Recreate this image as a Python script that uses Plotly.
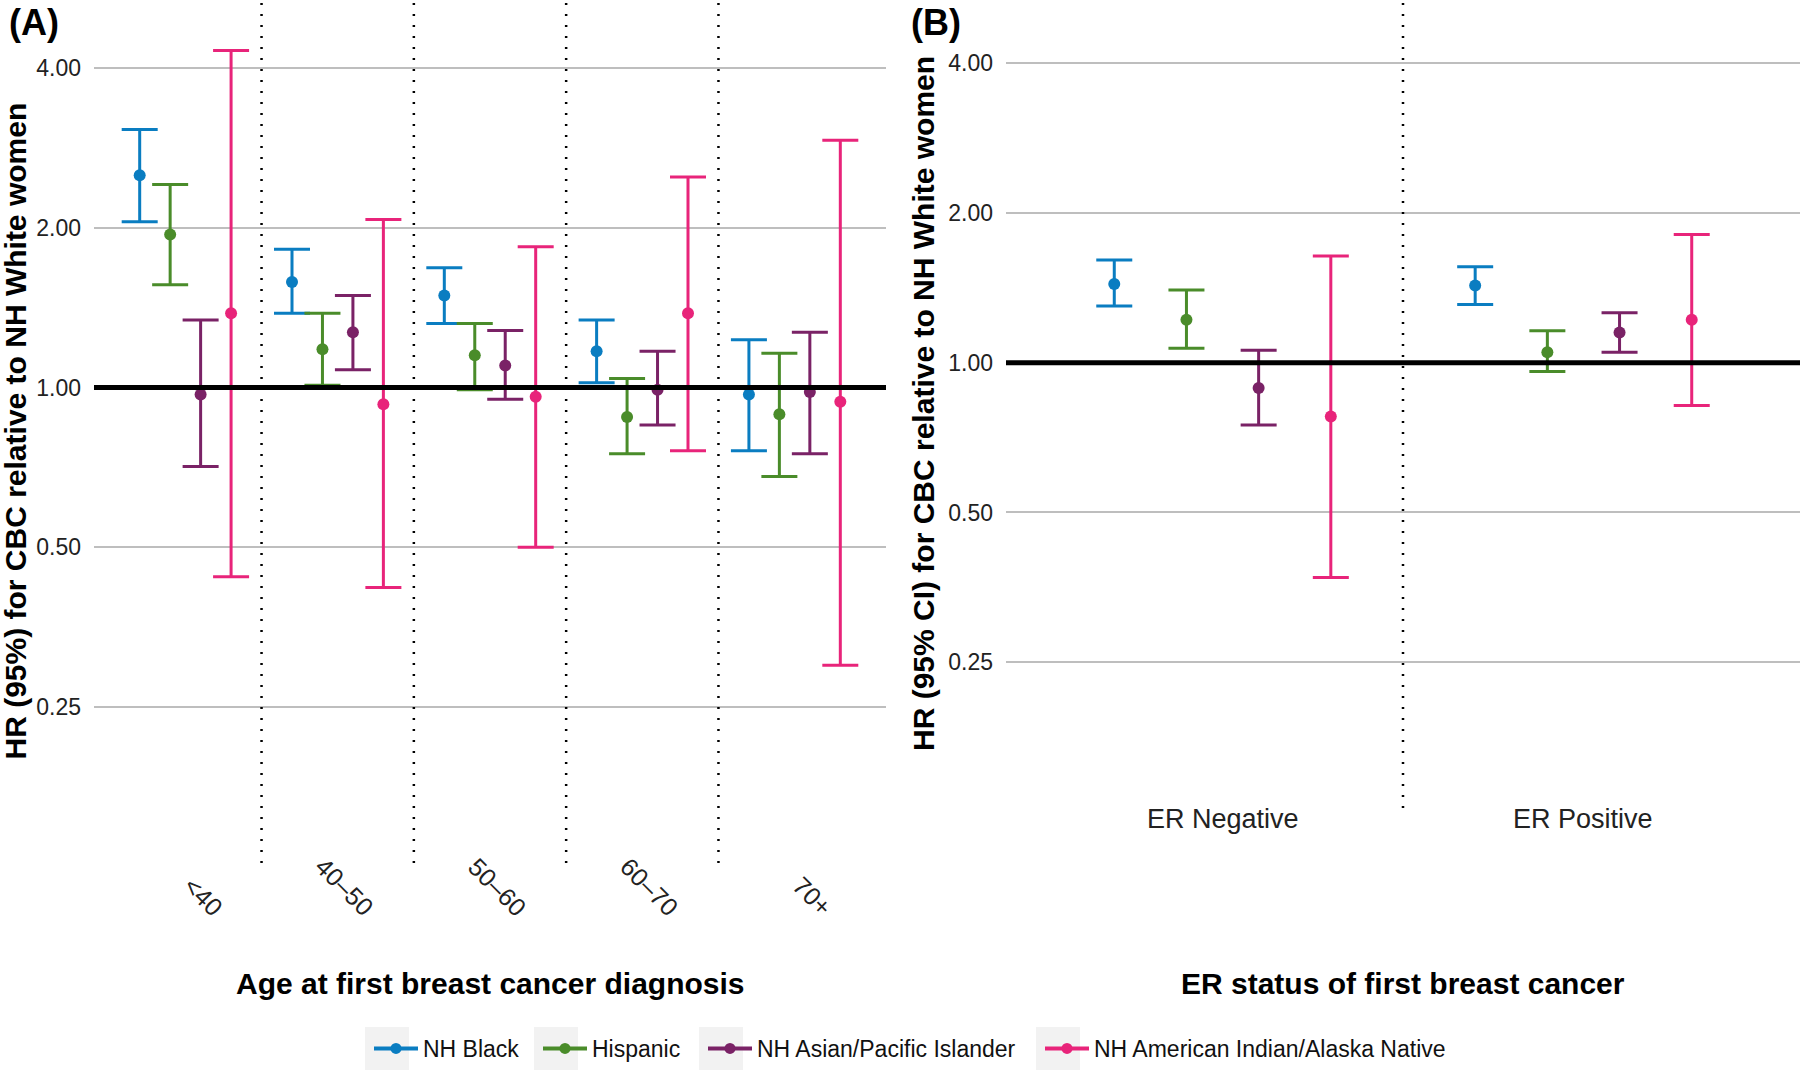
import plotly.graph_objects as go

# ---------------- data ----------------
age_groups = ["<40", "40–50", "50–60", "60–70", "70+"]
er_groups = ["ER Negative", "ER Positive"]
series_names = ["NH Black", "Hispanic", "NH Asian/Pacific Islander",
                "NH American Indian/Alaska Native"]
tick_vals = [0.25, 0.5, 1, 2, 4]
tick_text = ["0.25", "0.50", "1.00", "2.00", "4.00"]

# Panel A: HR by age at first diagnosis
age_black_hr = [2.51, 1.58, 1.49, 1.17, 0.97]
age_black_lo = [2.05, 1.38, 1.32, 1.02, 0.76]
age_black_hi = [3.06, 1.82, 1.68, 1.34, 1.23]

age_hisp_hr = [1.94, 1.18, 1.15, 0.88, 0.89]
age_hisp_lo = [1.56, 1.01, 0.99, 0.75, 0.68]
age_hisp_hi = [2.41, 1.38, 1.32, 1.04, 1.16]

age_asian_hr = [0.97, 1.27, 1.10, 0.99, 0.98]
age_asian_lo = [0.71, 1.08, 0.95, 0.85, 0.75]
age_asian_hi = [1.34, 1.49, 1.28, 1.17, 1.27]

age_aian_hr = [1.38, 0.93, 0.96, 1.38, 0.94]
age_aian_lo = [0.44, 0.42, 0.50, 0.76, 0.30]
age_aian_hi = [4.31, 2.07, 1.84, 2.49, 2.92]

# Panel B: HR by ER status
er_black_hr = [1.44, 1.43]
er_black_lo = [1.30, 1.31]
er_black_hi = [1.61, 1.56]

er_hisp_hr = [1.22, 1.05]
er_hisp_lo = [1.07, 0.96]
er_hisp_hi = [1.40, 1.16]

er_asian_hr = [0.89, 1.15]
er_asian_lo = [0.75, 1.05]
er_asian_hi = [1.06, 1.26]

er_aian_hr = [0.78, 1.22]
er_aian_lo = [0.37, 0.82]
er_aian_hi = [1.64, 1.81]

# ---------------- style ----------------
colors = ["#0A7DC1", "#4A8C2A", "#7A2266", "#E8247A"]
FONT = "Liberation Sans, Arial, sans-serif"
W, H = 1800, 1071
legend_key_left = [365, 534, 699, 1036]   # px, left edge of each grey key box
KEY_W, KEY_TOP, KEY_BOT = 44, 1027, 1070

def px_x(p):
    return p / W

def px_y(p):
    return 1 - p / H

age_series = [
    (age_black_hr, age_black_lo, age_black_hi),
    (age_hisp_hr, age_hisp_lo, age_hisp_hi),
    (age_asian_hr, age_asian_lo, age_asian_hi),
    (age_aian_hr, age_aian_lo, age_aian_hi),
]
er_series = [
    (er_black_hr, er_black_lo, er_black_hi),
    (er_hisp_hr, er_hisp_lo, er_hisp_hi),
    (er_asian_hr, er_asian_lo, er_asian_hi),
    (er_aian_hr, er_aian_lo, er_aian_hi),
]

fig = go.Figure()

def add_panel(cats, series, xa, ya):
    for i, (hr, lo, hi) in enumerate(series):
        fig.add_trace(go.Scatter(
            x=cats, y=hr, mode="markers",
            name=series_names[i], showlegend=False,
            offsetgroup=series_names[i],
            marker=dict(color=colors[i], size=12),
            error_y=dict(type="data", symmetric=False,
                         array=[h - v for h, v in zip(hi, hr)],
                         arrayminus=[v - l for v, l in zip(hr, lo)],
                         color=colors[i], thickness=3, width=18),
            xaxis=xa, yaxis=ya, hoverinfo="skip"))

add_panel(age_groups, age_series, "x", "y")
add_panel(er_groups, er_series, "x2", "y2")

# legend-only entries, one legend per entry so each can be placed
legend_ids = ["legend", "legend2", "legend3", "legend4"]
for i, name in enumerate(series_names):
    fig.add_trace(go.Scatter(
        x=[None], y=[None], mode="lines+markers", name=name,
        offsetgroup=name, legend=legend_ids[i],
        line=dict(color=colors[i], width=4),
        marker=dict(color=colors[i], size=11),
        xaxis="x", yaxis="y"))

yrange = [-0.8953, 0.7294]
yaxis_common = dict(
    type="log", range=yrange, tickvals=tick_vals, ticktext=tick_text,
    showgrid=True, gridcolor="#BEBEBE", gridwidth=2,
    zeroline=False, showline=False, ticks="",
    tickfont=dict(family=FONT, size=23, color="#222222"),
    ticklabelstandoff=12,
)
xaxis_common = dict(type="category", showgrid=False, zeroline=False,
                    showline=False, showticklabels=False, ticks="")

legend_style = dict(orientation="h", xanchor="left",
                    y=px_y(1048.5), yanchor="middle",
                    font=dict(family=FONT, size=23, color="#111111"),
                    itemwidth=44, bgcolor="rgba(0,0,0,0)", borderwidth=0)

layout_legends = {}
for i, lid in enumerate(legend_ids):
    layout_legends[lid] = dict(x=px_x(legend_key_left[i] + 4), **legend_style)

fig.update_layout(
    width=W, height=H,
    margin=dict(l=0, r=0, t=0, b=0, autoexpand=False),
    paper_bgcolor="white", plot_bgcolor="white",
    scattermode="group", scattergap=0.2,
    xaxis=dict(domain=[px_x(94), px_x(886)], range=[-0.6, 4.6],
               categoryorder="array", categoryarray=age_groups, **xaxis_common),
    yaxis=dict(domain=[px_y(863), 1], **yaxis_common),
    xaxis2=dict(domain=[px_x(1006), 1], range=[-0.6, 1.6], anchor="y2",
                categoryorder="array", categoryarray=er_groups, **xaxis_common),
    yaxis2=dict(domain=[px_y(808), 1], anchor="x2", **yaxis_common),
    showlegend=True,
    **layout_legends,
)

shapes = []
# grey legend key backgrounds
for xl in legend_key_left:
    shapes.append(dict(type="rect", xref="paper", yref="paper",
                       x0=px_x(xl), x1=px_x(xl + KEY_W),
                       y0=px_y(KEY_BOT), y1=px_y(KEY_TOP),
                       fillcolor="#F2F2F2", line=dict(width=0), layer="below"))
# reference line at HR = 1
for xr, yr in (("x domain", "y"), ("x2 domain", "y2")):
    shapes.append(dict(type="line", xref=xr, yref=yr, x0=0, x1=1, y0=1, y1=1,
                       line=dict(color="black", width=5), layer="above"))
# dotted separators between categories
for k in range(len(age_groups) - 1):
    shapes.append(dict(type="line", xref="x", yref="y domain",
                       x0=k + 0.5, x1=k + 0.5, y0=0, y1=1,
                       line=dict(color="black", width=2.5, dash="2px,9px"),
                       layer="above"))
for k in range(len(er_groups) - 1):
    shapes.append(dict(type="line", xref="x2", yref="y2 domain",
                       x0=k + 0.5, x1=k + 0.5, y0=0, y1=1,
                       line=dict(color="black", width=2.5, dash="2px,9px"),
                       layer="above"))
fig.update_layout(shapes=shapes)

ann = []
# rotated age category labels
for c in age_groups:
    ann.append(dict(x=c, xref="x", y=px_y(924), yref="paper", text=c,
                    textangle=45, xanchor="right", yanchor="bottom",
                    xshift=45, showarrow=False,
                    font=dict(family=FONT, size=25, color="#222222")))
# ER category labels
for c in er_groups:
    ann.append(dict(x=c, xref="x2", y=px_y(819), yref="paper", text=c,
                    xanchor="center", yanchor="middle", showarrow=False,
                    font=dict(family=FONT, size=27, color="#222222")))
# axis titles
ann.append(dict(x=0.5, xref="x domain", y=px_y(983), yref="paper",
                text="<b>Age at first breast cancer diagnosis</b>",
                xanchor="center", yanchor="middle", showarrow=False,
                font=dict(family=FONT, size=30, color="black")))
ann.append(dict(x=0.5, xref="x2 domain", y=px_y(983), yref="paper",
                text="<b>ER status of first breast cancer</b>",
                xanchor="center", yanchor="middle", showarrow=False,
                font=dict(family=FONT, size=30, color="black")))
ann.append(dict(x=px_x(15), xref="paper", y=0.5, yref="y domain",
                text="<b>HR (95%) for CBC relative to NH White women</b>",
                textangle=-90, xanchor="center", yanchor="middle",
                showarrow=False,
                font=dict(family=FONT, size=30, color="black")))
ann.append(dict(x=px_x(923), xref="paper", y=0.5, yref="y2 domain",
                text="<b>HR (95% CI) for CBC relative to NH White women</b>",
                textangle=-90, xanchor="center", yanchor="middle",
                showarrow=False,
                font=dict(family=FONT, size=30, color="black")))
# panel tags
ann.append(dict(x=px_x(7), xref="paper", y=1, yref="paper", text="<b>(A)</b>",
                xanchor="left", yanchor="top", showarrow=False,
                font=dict(family=FONT, size=36, color="black")))
ann.append(dict(x=px_x(909), xref="paper", y=1, yref="paper", text="<b>(B)</b>",
                xanchor="left", yanchor="top", showarrow=False,
                font=dict(family=FONT, size=36, color="black")))
fig.update_layout(annotations=ann)

fig.write_html("out.html",
               config={"displayModeBar": False},
               post_script="document.body.style.margin='0px';"
                           "document.body.style.overflow='hidden';")
